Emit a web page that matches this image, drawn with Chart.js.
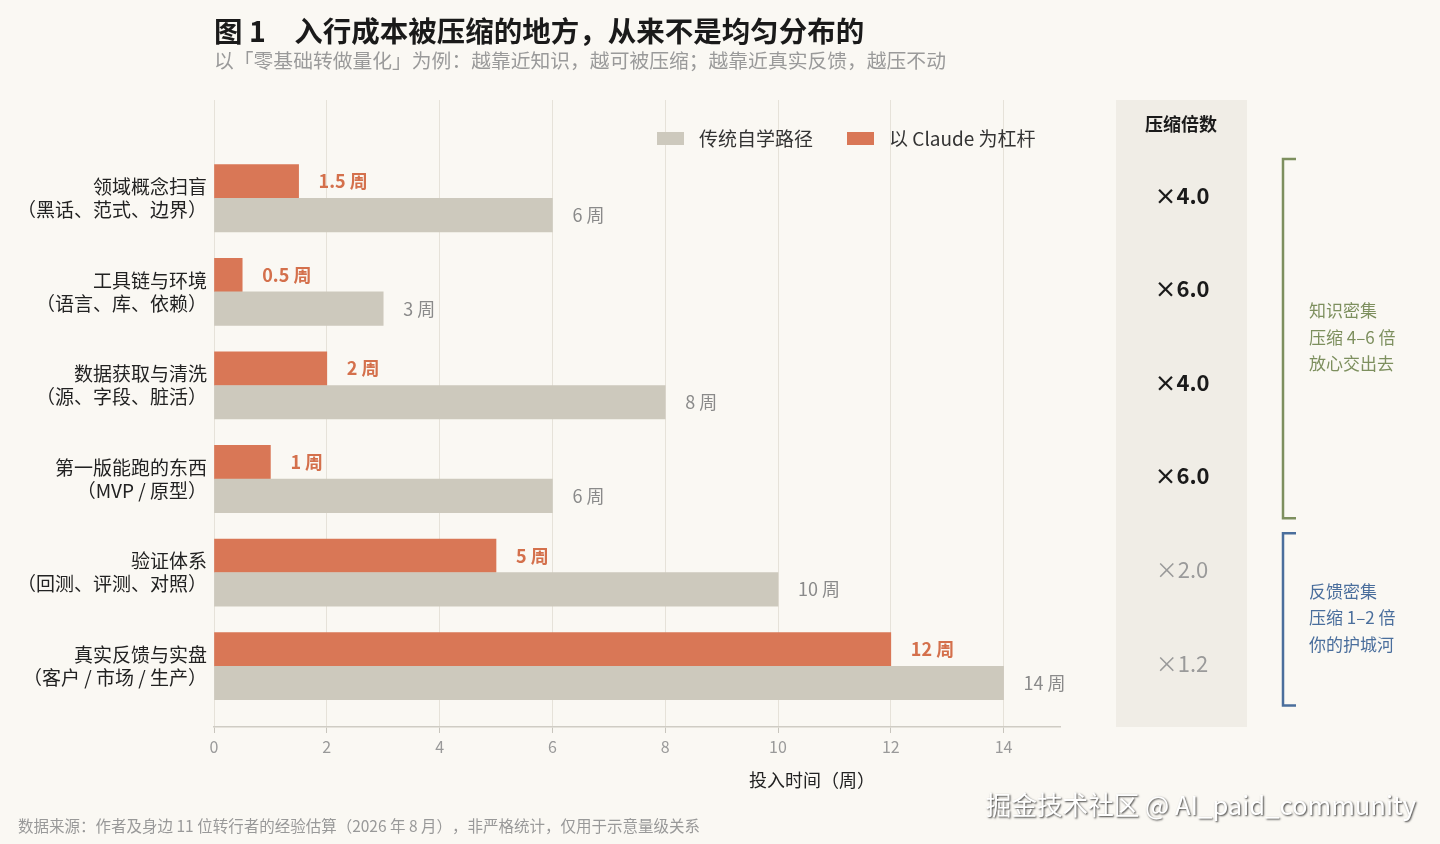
<!DOCTYPE html>
<html>
<head>
<meta charset="utf-8">
<script src="https://cdn.jsdelivr.net/npm/chart.js@4"></script>
<style>
  html, body { margin: 0; padding: 0; background: #faf8f3; }
  #wrap { width: 1440px; height: 844px; }
  canvas { text-spacing-trim: space-all; }
</style>
</head>
<body>
<div id="wrap"><canvas id="myChart" width="1440" height="844"></canvas></div>
<script>
// stages, top to bottom
const categories = [
  ['领域概念扫盲', '（黑话、范式、边界）'],
  ['工具链与环境', '（语言、库、依赖）'],
  ['数据获取与清洗', '（源、字段、脏活）'],
  ['第一版能跑的东西', '（MVP / 原型）'],
  ['验证体系', '（回测、评测、对照）'],
  ['真实反馈与实盘', '（客户 / 市场 / 生产）'],
];
const traditionalWeeks = [6, 3, 8, 6, 10, 14];
const claudeWeeks = [1.5, 0.5, 2, 1, 5, 12];
const xTicks = [0, 2, 4, 6, 8, 10, 12, 14];
const seriesNames = ['传统自学路径', '以 Claude 为杠杆'];
const groups = [
  { from: 0, to: 3, lines: ['知识密集', '压缩 4–6 倍', '放心交出去'], color: '#7d8f5e' },
  { from: 4, to: 5, lines: ['反馈密集', '压缩 1–2 倍', '你的护城河'], color: '#4a6e9c' },
];

const FONT = '"Noto Sans CJK SC", "Noto Sans", sans-serif';
const GREY = '#cdc9bd';
const ORANGE = '#d97756';

// text, legend, side panel and brackets drawn around the chart
const decorPlugin = {
  id: 'decor',
  beforeDraw(chart) {
    const { ctx, chartArea } = chart;
    ctx.save();
    ctx.fillStyle = '#f0ede6';
    ctx.fillRect(1116, chartArea.top, 131, chartArea.bottom - chartArea.top);
    ctx.restore();
  },
  afterDraw(chart) {
    const { ctx } = chart;
    const y = chart.scales.y;
    ctx.save();
    ctx.textBaseline = 'middle';

    // title
    ctx.fillStyle = '#1a1a1a';
    ctx.font = `bold 28.5px ${FONT}`;
    ctx.fillText('图 1　入行成本被压缩的地方，从来不是均匀分布的', 214, 31);
    ctx.fillStyle = '#9a9a9a';
    ctx.font = `19.8px ${FONT}`;
    ctx.fillText('以「零基础转做量化」为例：越靠近知识，越可被压缩；越靠近真实反馈，越压不动', 214, 60);

    // legend
    const legend = [
      { x: 657, color: GREY, text: seriesNames[0] },
      { x: 847, color: ORANGE, text: seriesNames[1] },
    ];
    ctx.font = `19px ${FONT}`;
    legend.forEach((l) => {
      ctx.fillStyle = l.color;
      ctx.fillRect(l.x, 132, 27, 13);
      ctx.fillStyle = '#333';
      ctx.fillText(l.text, l.x + 42, 139);
    });

    // x axis title
    ctx.textAlign = 'center';
    ctx.fillStyle = '#222';
    ctx.font = `18px ${FONT}`;
    ctx.fillText('投入时间（周）', 812, 780);

    // side panel
    ctx.fillStyle = '#1a1a1a';
    ctx.font = `bold 18px ${FONT}`;
    ctx.fillText('压缩倍数', 1181, 124);
    categories.forEach((c, i) => {
      const ratio = traditionalWeeks[i] / claudeWeeks[i];
      const strong = ratio >= 3;
      ctx.fillStyle = strong ? '#1a1a1a' : '#9a9a9a';
      ctx.font = `${strong ? 'bold ' : ''}22px ${FONT}`;
      ctx.fillText('×' + ratio.toFixed(1), 1182, y.getPixelForValue(i) - 3);
    });

    // brackets
    ctx.textAlign = 'left';
    groups.forEach((g) => {
      const top = y.getPixelForValue(g.from - 0.42);
      const bot = y.getPixelForValue(g.to + 0.42);
      ctx.strokeStyle = g.color;
      ctx.lineWidth = 2.5;
      ctx.beginPath();
      ctx.moveTo(1296, top);
      ctx.lineTo(1283, top);
      ctx.lineTo(1283, bot);
      ctx.lineTo(1296, bot);
      ctx.stroke();
      ctx.fillStyle = g.color;
      ctx.font = `17px ${FONT}`;
      const mid = (top + bot) / 2;
      g.lines.forEach((t, k) => ctx.fillText(t, 1309, mid - 1.5 + (k - 1) * 26.5));
    });

    // footer
    ctx.fillStyle = '#999';
    ctx.font = `15.5px ${FONT}`;
    ctx.fillText('数据来源：作者及身边 11 位转行者的经验估算（2026 年 8 月），非严格统计，仅用于示意量级关系', 18, 826);

    // watermark
    ctx.textAlign = 'right';
    ctx.font = `25.6px ${FONT}`;
    ctx.shadowColor = 'rgba(0,0,0,0.75)';
    ctx.shadowBlur = 2;
    ctx.shadowOffsetX = 1;
    ctx.shadowOffsetY = 1;
    ctx.fillStyle = '#ffffff';
    ctx.fillText('掘金技术社区 @ AI_paid_community', 1416, 805);
    ctx.restore();
  },
  afterDatasetsDraw(chart) {
    const { ctx } = chart;
    ctx.save();
    ctx.textBaseline = 'middle';
    chart.data.datasets.forEach((ds, di) => {
      chart.getDatasetMeta(di).data.forEach((bar, i) => {
        const v = ds.data[i].x;
        if (di === 1) {
          ctx.fillStyle = '#d4704c';
          ctx.font = `bold 18px ${FONT}`;
        } else {
          ctx.fillStyle = '#8a8a8a';
          ctx.font = `18px ${FONT}`;
        }
        ctx.fillText(v + ' 周', bar.x + 20, bar.y);
      });
    });
    ctx.restore();
  },
};

const ctx = document.getElementById('myChart').getContext('2d');
new Chart(ctx, {
  type: 'bar',
  data: {
    datasets: [
      {
        label: seriesNames[0],
        data: traditionalWeeks.map((v, i) => ({ x: v, y: i + 0.18 })),
        backgroundColor: GREY,
      },
      {
        label: seriesNames[1],
        data: claudeWeeks.map((v, i) => ({ x: v, y: i - 0.18 })),
        backgroundColor: ORANGE,
      },
    ],
  },
  options: {
    indexAxis: 'y',
    responsive: false,
    animation: false,
    grouped: false,
    barThickness: 33.5,
    layout: { padding: { top: 100, right: 380, bottom: 30, left: 0 } },
    plugins: { legend: { display: false }, tooltip: { enabled: false } },
    scales: {
      x: {
        type: 'linear',
        min: 0,
        max: 15,
        afterBuildTicks: (s) => { s.ticks = xTicks.map((v) => ({ value: v })); },
        afterFit: (s) => { s.height = 87; },
        grid: { color: '#e6e2d9', lineWidth: 1, tickLength: 6, tickColor: '#c8c5bd' },
        border: { color: '#cfccc4', width: 1.5 },
        ticks: { color: '#999', font: { family: FONT, size: 16 }, padding: 4 },
      },
      y: {
        type: 'linear',
        reverse: true,
        offset: false,
        min: -1.05,
        max: 5.65,
        afterBuildTicks: (s) => { s.ticks = categories.map((c, i) => ({ value: i })); },
        afterFit: (s) => { s.width = 214; },
        grid: { display: false, drawTicks: false, tickLength: 0 },
        border: { display: false },
        ticks: {
          color: '#222',
          padding: 7,
          font: { family: FONT, size: 19, lineHeight: 1.21 },
          callback: (v) => categories[v],
        },
      },
    },
  },
  plugins: [decorPlugin],
});
</script>
</body>
</html>
